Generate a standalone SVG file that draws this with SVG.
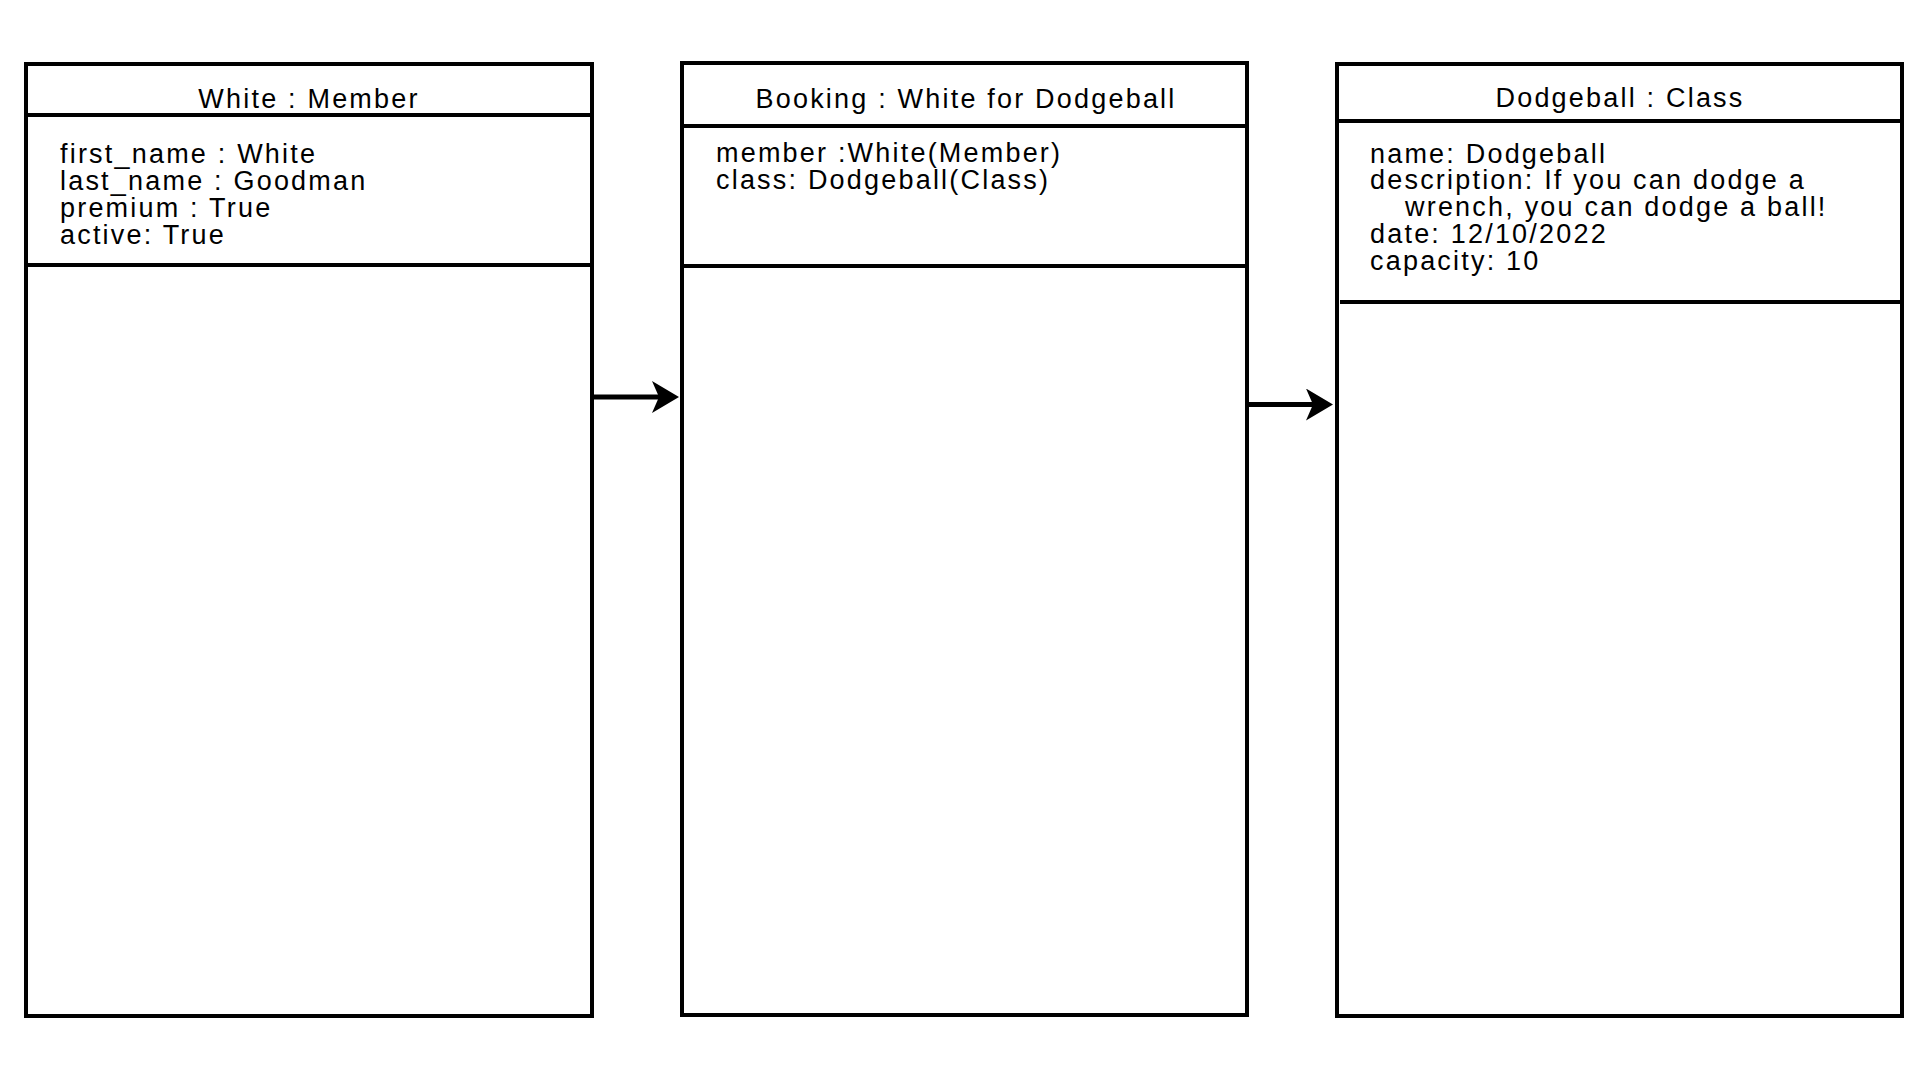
<svg xmlns="http://www.w3.org/2000/svg" width="1920" height="1080" viewBox="0 0 1920 1080">
  <style>
    .box { fill: #ffffff; stroke: #000000; stroke-width: 4; }
    .div { stroke: #000000; stroke-width: 4; fill: none; }
    .t { font-family: "Liberation Sans", Arial, sans-serif; font-size: 27px; fill: #000000; letter-spacing: 2.2px; }
    .title { text-anchor: middle; }
    .conn { stroke: #000000; stroke-width: 5; fill: none; }
  </style>
  <defs>
    <marker id="arrow" markerUnits="userSpaceOnUse" viewBox="0 0 27 32" refX="19" refY="16" markerWidth="27" markerHeight="32" orient="auto">
      <path d="M0,0 L27,16 L0,32 L7,16 Z" fill="#000000"/>
    </marker>
  </defs>
  <rect width="1920" height="1080" fill="#ffffff"/>

  <g id="member">
    <rect class="box" x="26" y="64" width="566" height="952"/>
    <line class="div" x1="26" y1="115" x2="592" y2="115"/>
    <line class="div" x1="26" y1="265" x2="592" y2="265"/>
    <text class="t title" x="309" y="108">White : Member</text>
    <text class="t" x="60" y="162.5">first_name : White</text>
    <text class="t" x="60" y="189.5">last_name : Goodman</text>
    <text class="t" x="60" y="217">premium : True</text>
    <text class="t" x="60" y="244">active: True</text>
  </g>

  <g id="booking">
    <rect class="box" x="682" y="63" width="565" height="952"/>
    <line class="div" x1="682" y1="126" x2="1247" y2="126"/>
    <line class="div" x1="682" y1="266" x2="1247" y2="266"/>
    <text class="t title" x="966" y="108">Booking : White for Dodgeball</text>
    <text class="t" x="716" y="161.5">member :White(Member)</text>
    <text class="t" x="716" y="188.5">class: Dodgeball(Class)</text>
  </g>

  <g id="dodgeball">
    <rect class="box" x="1337" y="64" width="565" height="952"/>
    <line class="div" x1="1337" y1="121" x2="1902" y2="121"/>
    <line class="div" x1="1340" y1="302" x2="1902" y2="302"/>
    <text class="t title" x="1620" y="107">Dodgeball : Class</text>
    <text class="t" x="1370" y="162.5">name: Dodgeball</text>
    <text class="t" x="1370" y="189">description: If you can dodge a</text>
    <text class="t" x="1405" y="216">wrench, you can dodge a ball!</text>
    <text class="t" x="1370" y="243">date: 12/10/2022</text>
    <text class="t" x="1370" y="270">capacity: 10</text>
  </g>

  <g id="connectors">
    <path class="conn" d="M592,397 L671,397" marker-end="url(#arrow)"/>
    <path class="conn" d="M1247,404.5 L1325,404.5" marker-end="url(#arrow)"/>
  </g>
</svg>
